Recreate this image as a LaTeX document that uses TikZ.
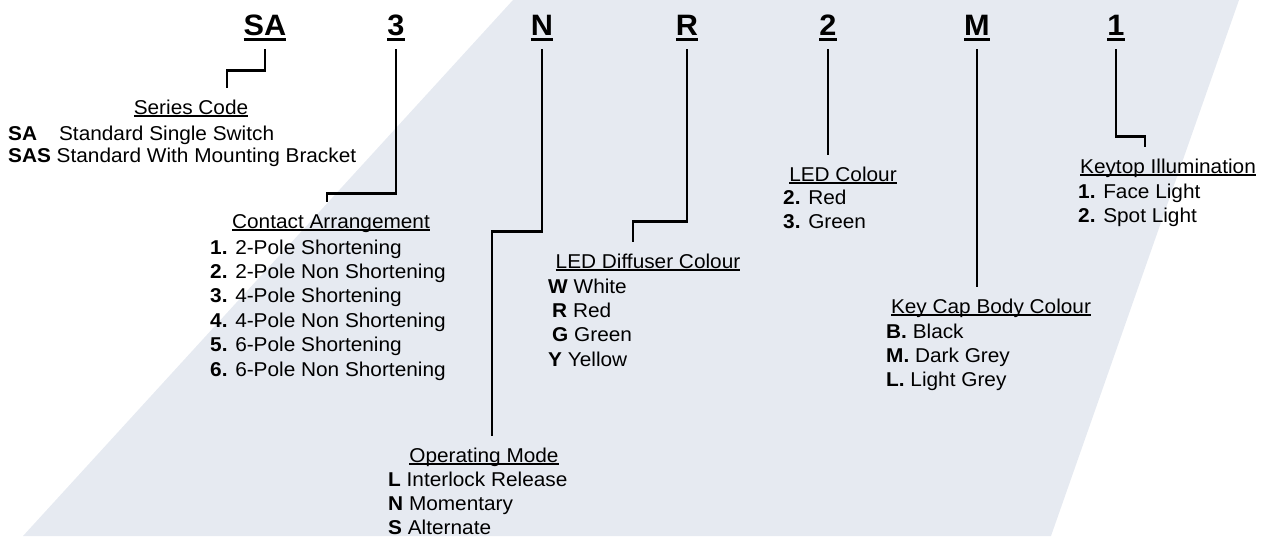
\documentclass[tikz,border=0pt]{standalone}
\usepackage{fontspec}
\setmainfont{Liberation Sans}[FakeStretch=1.04]
\usepackage{tikz}
\usetikzlibrary{calc}

\definecolor{panel}{RGB}{230,234,241}
\newcommand{\ulbox}[3]{\setbox0=\hbox{#3}\rlap{\rule[#1]{\wd0}{#2}}\box0}

\tikzset{
  header/.style={font=\fontsize{29.5}{32}\selectfont\bfseries, inner xsep=0pt, inner ysep=8pt, text depth=6pt, anchor=base},
  title/.style={font=\fontsize{20}{24}\selectfont, inner xsep=0pt, inner ysep=11.5pt, text height=14.5pt, text depth=3.2pt, anchor=base},
  items/.style={font=\fontsize{20}{24.4}\selectfont, inner sep=0pt, align=left, anchor=north west},
  lead/.style={line width=2.6pt},
}

\begin{document}
\begin{tikzpicture}[x=1pt,y=-1pt]
\useasboundingbox (0,0) rectangle (1264,536);
\fill[panel] (513,0) -- (1239,0) -- (1051,536) -- (23,536) -- cycle;

\node[header] (hSA) at (265,35) {\ulbox{-6pt}{3.5pt}{SA}};
\node[header] (h3) at (396,35) {\ulbox{-6pt}{3.5pt}{3}};
\node[header] (hN) at (542,35) {\ulbox{-6pt}{3.5pt}{N}};
\node[header] (hR) at (687,35) {\ulbox{-6pt}{3.5pt}{R}};
\node[header] (h2) at (828,35) {\ulbox{-6pt}{3.5pt}{2}};
\node[header] (hM) at (977,35) {\ulbox{-6pt}{3.5pt}{M}};
\node[header] (h1) at (1116,35) {\ulbox{-6pt}{3.5pt}{1}};

\node[title] (tSeries) at (191,114) {\ulbox{-3.2pt}{1.8pt}{Series Code}};
\node[items,font=\fontsize{20}{22}\selectfont] (lSeries) at (8,125.4)
  {\textbf{SA}\hspace{22pt}Standard Single Switch\\\textbf{SAS} Standard With Mounting Bracket};

\node[title] (tContact) at (331,228) {\ulbox{-3.2pt}{1.8pt}{Contact Arrangement}};
\node[items] (lContact) at (210,239.4)
  {\textbf{1.} 2-Pole Shortening\\\textbf{2.} 2-Pole Non Shortening\\\textbf{3.} 4-Pole Shortening\\
   \textbf{4.} 4-Pole Non Shortening\\\textbf{5.} 6-Pole Shortening\\\textbf{6.} 6-Pole Non Shortening};

\node[title] (tMode) at (484,462) {\ulbox{-3.2pt}{1.8pt}{Operating Mode}};
\node[items] (lMode) at (388,471.4)
  {\textbf{L} Interlock Release\\\textbf{N} Momentary\\\textbf{S} Alternate};

\node[title] (tDiffuser) at (648,268) {\ulbox{-3.2pt}{1.8pt}{LED Diffuser Colour}};
\node[items] (lDiffuser) at (548,278.4)
  {\textbf{W} White\\\hspace*{4pt}\textbf{R} Red\\\hspace*{4pt}\textbf{G} Green\\\textbf{Y} Yellow};

\node[title] (tLed) at (843,181) {\ulbox{-3.2pt}{1.8pt}{LED Colour}};
\node[items] (lLed) at (783,189.4)
  {\textbf{2.} Red\\\textbf{3.} Green};

\node[title] (tKeyCap) at (991,313) {\ulbox{-3.2pt}{1.8pt}{Key Cap Body Colour}};
\node[items] (lKeyCap) at (886,323.4)
  {\textbf{B.} Black\\\textbf{M.} Dark Grey\\\textbf{L.} Light Grey};

\node[title] (tKeytop) at (1168,173) {\ulbox{-3.2pt}{1.8pt}{Keytop Illumination}};
\node[items] (lKeytop) at (1078,183.4)
  {\textbf{1.} Face Light\\\textbf{2.} Spot Light};

\draw[lead] (hSA.south) -- ++(0,21) -| ([xshift=36pt]tSeries.north);
\draw[lead] (h3.south) -- ++(0,144) -| ([xshift=-4pt]tContact.north);
\draw[lead] (hN.south) -- ++(0,182) -| ([xshift=8pt]tMode.north);
\draw[lead] (hR.south) -- ++(0,172) -| ([xshift=-15pt]tDiffuser.north);
\draw[lead] (h2.south) -- (h2.south |- tLed.north);
\draw[lead] (hM.south) -- (hM.south |- tKeyCap.north);
\draw[lead] (h1.south) -- ++(0,87) -| ([xshift=-23pt]tKeytop.north);
\end{tikzpicture}
\end{document}
